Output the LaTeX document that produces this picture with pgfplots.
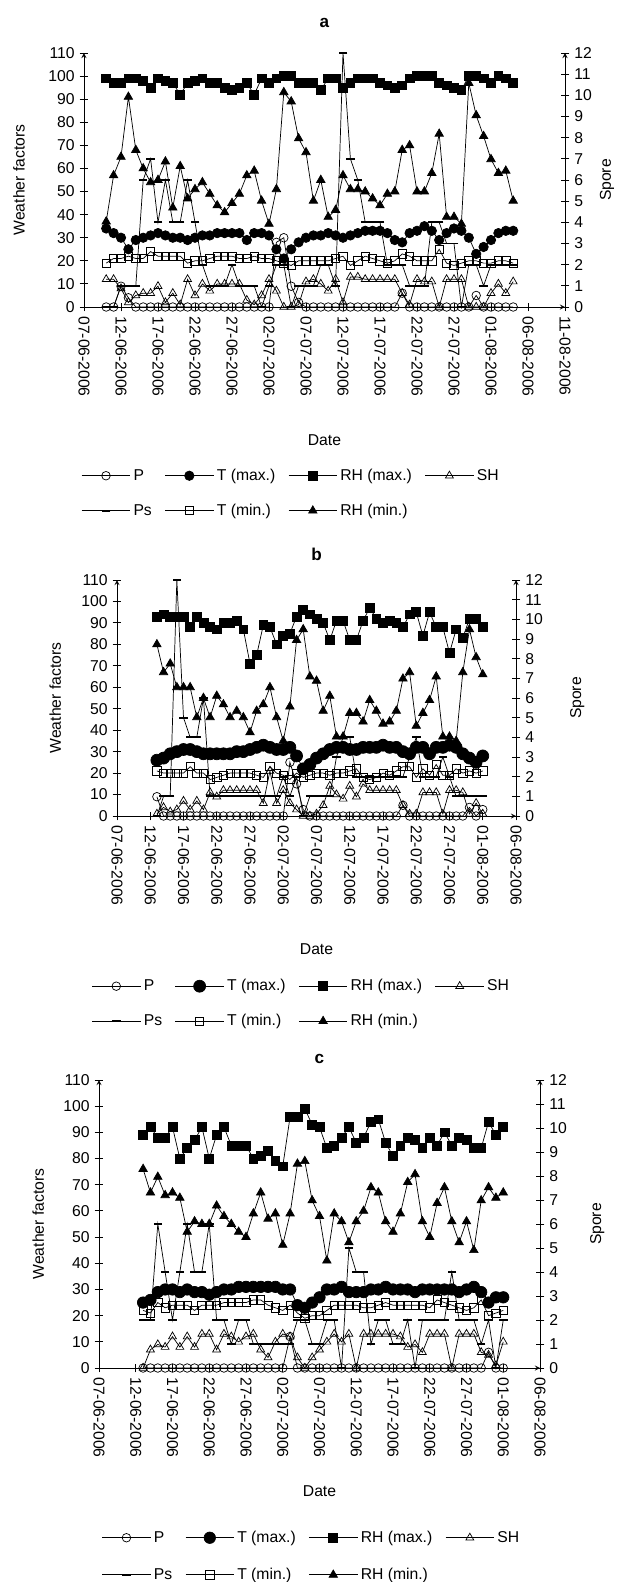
\documentclass[border=0pt]{standalone}
\usepackage{fontspec}
\setmainfont{Liberation Sans}
\usepackage{pgfplots}
\usepackage{pgfplotstable}
\pgfplotsset{compat=1.18}

% columns: day after 07-06-2006, P, T(max), RH(max), SH, Ps (spore), T(min), RH(min)
\pgfplotstableread{
d P Tmax RHmax SH Ps Tmin RHmin
3 0 34 99 12 0 19 37
4 0 32 97 12 0 21 57
5 9 30 97 8 1 21 65
6 4 25 99 2 1 22 91
7 0 29 99 5 1 21 68
8 0 30 98 6 6 21 60
9 0 31 95 6 7 24 54
10 0 32 99 9 4 22 55
11 0 31 98 2 6 22 63
12 0 30 97 6 4 22 43
13 0 30 92 1 4 22 61
14 0 29 97 12 6 19 47
15 0 30 98 5 4 20 51
16 0 31 99 10 2 20 54
17 0 31 97 7 1 21 49
18 0 32 97 10 1 22 44
19 0 32 95 10 1 22 41
20 0 32 94 10 2 22 45
21 0 32 95 10 1 21 49
22 0 29 97 3 1 21 57
23 0 32 92 1 1 22 59
24 0 32 99 5 0 21 46
25 0 31 97 12 1 21 36
26 28 25 99 7 2 20 51
27 30 21 100 0 2 19 93
28 9 25 100 0 0 18 89
29 2 28 97 1 1 20 73
30 0 30 97 11 1 20 67
31 0 31 97 12 1 20 46
32 0 31 94 10 2 20 55
33 0 32 99 7 2 20 39
34 0 31 99 12 1 21 42
35 0 30 95 2 12 22 57
36 0 31 97 13 7 18 51
37 0 32 99 13 6 20 51
38 0 33 99 12 4 22 50
39 0 33 99 12 4 21 47
40 0 33 97 12 4 20 44
41 0 32 96 12 2 19 49
42 0 29 95 12 2 20 50
43 6 28 96 6 2 23 68
44 0 32 99 1 1 22 70
45 0 33 100 12 1 20 50
46 0 35 100 11 1 20 50
47 0 33 100 11 4 20 58
48 0 29 97 0 4 25 75
49 0 32 96 12 3 19 39
50 0 34 95 12 3 18 39
51 0 33 94 12 0 19 36
52 0 30 100 0 2 20 97
53 5 23 100 0 2 20 83
54 0 26 99 0 1 19 74
55 0 29 97 6 2 19 64
56 0 32 100 10 2 20 58
57 0 33 99 6 2 20 59
58 0 33 97 11 2 19 46
}\dataa

\pgfplotstableread{
d P Tmax RHmax SH Ps Tmin RHmin
6 9 26 93 1 0 21 80
7 0 27 94 4 1 20 67
8 0 29 93 2 1 20 71
9 0 30 93 3 12 20 60
10 0 31 93 7 5 20 60
11 0 31 88 3 4 23 60
12 0 30 93 7 4 20 46
13 0 29 90 3 6 20 55
14 0 29 88 11 1 17 46
15 0 29 87 9 1 18 56
16 0 29 90 12 1 19 52
17 0 29 90 12 1 20 46
18 0 30 91 12 1 20 49
19 0 30 87 12 1 20 46
20 0 31 71 12 1 20 39
21 0 32 75 12 1 19 49
22 0 33 89 6 1 18 52
23 0 32 88 21 1 23 60
24 0 31 80 6 1 20 46
25 0 31 84 12 2 19 35
26 25 32 85 6 1 17 51
27 15 28 93 3 2 20 82
28 3 22 96 0 0 18 87
29 0 24 94 0 1 19 65
30 0 27 92 1 1 20 63
31 0 29 90 5 1 20 49
32 0 31 82 14 1 19 56
33 0 32 91 10 3 20 37
34 0 32 91 8 4 20 37
35 0 31 82 14 4 21 48
36 0 31 82 9 2 22 48
37 0 32 91 15 2 18 44
38 0 32 97 12 2 17 54
39 0 32 92 12 2 18 49
40 0 33 90 12 2 20 43
41 0 32 91 12 2 19 44
42 0 32 90 12 2 21 49
43 5 30 88 5 2 23 64
44 0 29 94 1 3 23 67
45 0 32 95 1 4 18 42
46 0 32 84 11 2 22 48
47 0 29 95 11 2 19 54
48 0 32 88 11 2 24 65
49 0 32 88 1 3 19 37
50 0 33 76 12 2 19 37
51 0 32 87 12 1 22 35
52 0 29 83 11 1 20 67
53 4 27 92 1 1 21 87
54 0 25 92 6 1 20 74
55 3 28 88 1 1 21 66
}\datab

\pgfplotstableread{
d P Tmax RHmax SH Ps Tmin RHmin
6 0 25 89 0 2 22 76
7 0 26 92 7 2 21 67
8 0 29 88 9 6 25 73
9 0 30 88 8 4 23 66
10 0 30 92 12 2 24 67
11 0 29 80 8 4 24 65
12 0 30 84 12 6 24 52
13 0 29 87 8 4 22 56
14 0 29 92 13 4 24 55
15 0 28 80 13 6 24 55
16 0 29 89 7 2 24 62
17 0 30 92 13 2 25 58
18 0 30 85 12 1 25 55
19 0 31 85 10 2 25 52
20 0 31 85 12 2 25 50
21 0 31 80 13 1 26 59
22 0 31 81 7 1 26 67
23 0 31 83 4 1 24 57
24 0 31 79 10 1 23 59
25 0 30 77 13 1 22 47
26 12 30 96 12 1 24 59
27 0 24 96 4 2 21 78
28 0 23 99 0 2 19 79
29 0 25 93 4 1 20 64
30 0 27 92 7 1 20 58
31 0 30 84 10 2 22 41
32 0 30 85 13 2 24 59
33 0 31 88 10 0 24 56
34 0 29 92 13 5 24 48
35 0 29 86 0 4 24 56
36 0 29 88 13 4 23 60
37 0 30 94 13 1 23 69
38 0 30 95 13 2 24 67
39 0 31 86 13 2 25 56
40 0 30 81 13 1 24 52
41 0 30 85 12 1 24 59
42 0 30 88 8 2 24 71
43 0 29 87 9 0 24 74
44 0 30 84 6 2 24 56
45 0 30 88 13 2 23 50
46 0 30 85 13 2 26 63
47 0 30 90 13 2 25 69
48 0 30 85 0 4 24 56
49 0 29 88 13 2 23 48
50 0 30 87 13 2 22 56
51 0 31 84 13 2 23 45
52 0 29 84 6 1 26 64
53 6 25 94 5 2 20 69
54 0 27 89 1 0 21 65
55 0 27 92 10 2 22 67
}\datac

\pgfplotsset{
  base/.style={
    scale only axis, clip=false,
    axis line style={-, line width=0.6pt},
    tick align=center, major tick length=6pt,
    tick style={black, line width=0.6pt},
    font=\fontsize{11}{13}\selectfont,
    /pgf/number format/assume math mode=true,
    every axis title/.style={at={(0.5,1)}, anchor=south,
      font=\bfseries\fontsize{12}{14}\selectfont},
    xlabel style={anchor=center},
    ylabel style={anchor=center},
  },
  leftax/.style={
    base,
    axis x line=bottom, axis y line=left,
    ymin=0, ymax=110, ytick={0,10,...,110},
    x tick label style={rotate=-90, anchor=west},
    legend columns=4,
    legend cell align=left,
    legend style={anchor=north west, draw=none, fill=none,
      font=\fontsize{11}{13}\selectfont, row sep=11pt,
      /tikz/every even column/.append style={column sep=7pt},
      /tikz/column 2/.append style={column sep=13pt}},
    legend image code/.code={\draw[mark repeat=2,mark phase=2,##1]
      plot coordinates {(0pt,0pt) (17pt,0pt) (34pt,0pt)};},
  },
  rightax/.style={
    base,
    axis x line=none, axis y line=right,
    ymin=0, ymax=12, ytick={0,1,...,12},
    ylabel={Spore},
  },
  sP/.style={black, line width=0.5pt, mark=o, mark size=3pt, mark options={solid}},
  sTmax/.style={black, line width=0.5pt, mark=*, mark size=#1, mark options={fill=black}},
  sTmax/.default=3.3pt,
  sRHmax/.style={black, line width=0.5pt, mark=square*, mark size=3.1pt, mark options={fill=black}},
  sSH/.style={black, line width=0.5pt, mark=triangle, mark size=3.2pt},
  sPs/.style={black, line width=0.5pt, mark=-, mark size=3pt, mark options={line width=1.2pt}},
  sTmin/.style={black, line width=0.5pt, mark=square, mark size=2.9pt},
  sRHmin/.style={black, line width=0.5pt, mark=triangle*, mark size=3.4pt, mark options={fill=black}},
}

% #1 table, #2 size of the T(max) circles
\newcommand{\series}[2]{%
  \addplot[sP] table[x=d,y=P]{#1};\addlegendentry{P}
  \addplot[sTmax=#2] table[x=d,y=Tmax]{#1};\addlegendentry{T (max.)}
  \addplot[sRHmax] table[x=d,y=RHmax]{#1};\addlegendentry{RH (max.)}
  \addplot[sSH] table[x=d,y=SH]{#1};\addlegendentry{SH}
  \addlegendimage{sPs}\addlegendentry{Ps}
  \addplot[sTmin] table[x=d,y=Tmin]{#1};\addlegendentry{T (min.)}
  \addplot[sRHmin] table[x=d,y=RHmin]{#1};\addlegendentry{RH (min.)}
}

\begin{document}
\begin{tikzpicture}
\path[use as bounding box] (0,0) rectangle (431.2pt,-1107.4pt);

% ---- panel a ----
\begin{axis}[leftax,
  at={(58.8pt,-37.1pt)}, anchor=north west,
  width=336.7pt, height=177.8pt,
  xmin=0, xmax=65, xtick={0,5,...,65},
  xticklabels={07-06-2006,12-06-2006,17-06-2006,22-06-2006,27-06-2006,02-07-2006,07-07-2006,12-07-2006,17-07-2006,22-07-2006,27-07-2006,01-08-2006,06-08-2006,11-08-2006},
  title={a}, title style={yshift=14pt},
  xlabel={Date}, xlabel style={at={(axis description cs:0.5,-0.524)}},
  ylabel={Weather factors}, ylabel style={at={(axis description cs:-0.135,0.5)}},
  legend style={at={(-0.015,-0.614)}},
]
\series{\dataa}{3.3pt}
\end{axis}
\begin{axis}[rightax,
  at={(58.8pt,-37.1pt)}, anchor=north west,
  width=336.7pt, height=177.8pt,
  xmin=0, xmax=65,
  ylabel style={at={(axis description cs:1.062,0.5)}},
]
\addplot[sPs] table[x=d,y=Ps]{\dataa};
\end{axis}

% ---- panel b ----
\begin{axis}[leftax,
  at={(81.9pt,-406pt)}, anchor=north west,
  width=279.3pt, height=165.2pt,
  xmin=0, xmax=60, xtick={0,5,...,60},
  xticklabels={07-06-2006,12-06-2006,17-06-2006,22-06-2006,27-06-2006,02-07-2006,07-07-2006,12-07-2006,17-07-2006,22-07-2006,27-07-2006,01-08-2006,06-08-2006},
  title={b}, title style={yshift=10pt},
  xlabel={Date}, xlabel style={at={(axis description cs:0.5,-0.564)}},
  ylabel={Weather factors}, ylabel style={at={(axis description cs:-0.155,0.5)}},
  legend style={at={(-0.075,-0.667)}},
]
\series{\datab}{4.2pt}
\end{axis}
\begin{axis}[rightax,
  at={(81.9pt,-406pt)}, anchor=north west,
  width=279.3pt, height=165.2pt,
  xmin=0, xmax=60,
  ylabel style={at={(axis description cs:1.123,0.5)}},
]
\addplot[sPs] table[x=d,y=Ps]{\datab};
\end{axis}

% ---- panel c ----
\begin{axis}[leftax,
  at={(69.3pt,-756pt)}, anchor=north west,
  width=308.7pt, height=201.6pt,
  xmin=0, xmax=60, xtick={0,5,...,60},
  xticklabels={07-06-2006,12-06-2006,17-06-2006,22-06-2006,27-06-2006,02-07-2006,07-07-2006,12-07-2006,17-07-2006,22-07-2006,27-07-2006,01-08-2006,06-08-2006},
  title={c}, title style={yshift=8pt},
  xlabel={Date}, xlabel style={at={(axis description cs:0.5,-0.428)}},
  ylabel={Weather factors}, ylabel style={at={(axis description cs:-0.138,0.5)}},
  legend style={at={(-0.004,-0.545)}, row sep=12.5pt},
]
\series{\datac}{4pt}
\end{axis}
\begin{axis}[rightax,
  at={(69.3pt,-756pt)}, anchor=north west,
  width=308.7pt, height=201.6pt,
  xmin=0, xmax=60,
  ylabel style={at={(axis description cs:1.102,0.5)}},
]
\addplot[sPs] table[x=d,y=Ps]{\datac};
\end{axis}
\end{tikzpicture}
\end{document}
